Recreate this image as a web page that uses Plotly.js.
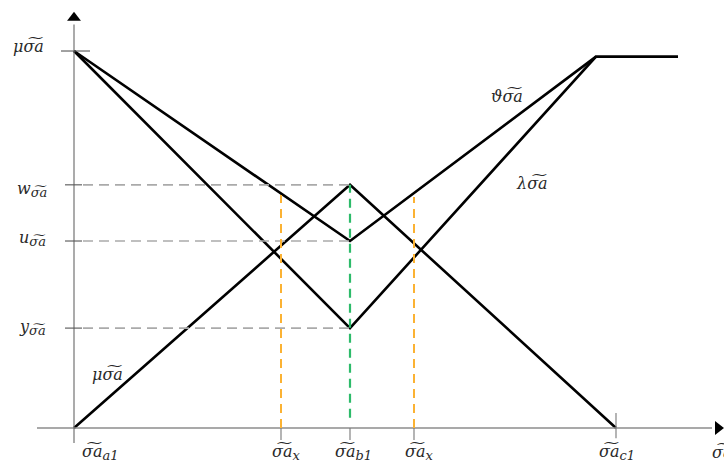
<!DOCTYPE html>
<html>
<head>
<meta charset="utf-8">
<script src="https://cdn.plot.ly/plotly-3.0.1.min.js"></script>
<style>html,body{margin:0;padding:0;background:#fff;}#chart{width:724px;height:462px;}</style>
</head>
<body>
<div id="chart"></div>
<script>
// Key abscissae (abstract units)
const xA1 = 0, xXL = 2.07, xB1 = 2.76, xXR = 3.40, xC1 = 5.42, xTop = 5.22, xEnd = 6.04;
// Membership levels
const levelTop = 1.0, levelTopRight = 0.985, levelW = 0.645, levelU = 0.496, levelY = 0.265;

// Truth membership (triangle)
const truthX = [xA1, xB1, xC1];
const truthY = [0, levelW, 0];
// Indeterminacy
const indetX = [xA1, xB1, xTop];
const indetY = [levelTop, levelU, levelTopRight];
// Falsity
const falsX = [xA1, xB1, xTop, xEnd];
const falsY = [levelTop, levelY, levelTopRight, levelTopRight];

// Guide levels
const guideLevels = [levelW, levelU, levelY];
const orangeX = [xXL, xXR];
const orangeTop = [0.618, 0.613];

const T = 'σ͠a';
const sub = s => '<sub><span style="font-size:13px">' + s + '</span></sub>';
const yTickLabels = ['μ' + T, 'w' + sub(T), 'u' + sub(T), 'y' + sub(T)];
const xTickLabels = [T + sub('a1'), T + sub('x'), T + sub('b1'), T + sub('x'), T + sub('c1'), T];
const xTickPos = [0.26, 2.12, 2.79, 3.45, 5.43, 6.36];
const curveLabels = ['μ' + T, 'ϑ' + T, 'λ' + T];
const curveLabelPos = [[0.33, 0.143], [4.33, 0.881], [4.58, 0.650]];

const blk = {color: '#000', width: 2.6};
const traces = [
  {x: truthX, y: truthY, mode: 'lines', line: blk},
  {x: indetX, y: indetY, mode: 'lines', line: blk},
  {x: falsX, y: falsY, mode: 'lines', line: blk},
  // axis arrowheads
  {x: [6.44], y: [0], mode: 'markers', marker: {symbol: 'triangle-right', size: 12, color: '#000'}},
  {x: [0], y: [1.088], mode: 'markers', marker: {symbol: 'triangle-up', size: 12, color: '#000'}}
];

const shapes = [];
// axes
shapes.push({type: 'line', x0: -0.37, x1: 6.38, y0: 0, y1: 0, line: {color: '#8c8c8c', width: 1.6}});
shapes.push({type: 'line', x0: 0, x1: 0, y0: -0.04, y1: 1.07, line: {color: '#666', width: 1.1}});
// top tick
shapes.push({type: 'line', x0: -0.13, x1: 0.16, y0: levelTop, y1: levelTop, line: {color: '#555', width: 1.1}});
// gray dashed guides with ticks
guideLevels.forEach(v => {
  shapes.push({type: 'line', x0: -0.09, x1: 0.08, y0: v, y1: v, line: {color: '#555', width: 1.1}});
  shapes.push({type: 'line', x0: 0.09, x1: xB1, y0: v, y1: v, line: {color: '#aaaaaa', width: 1.6, dash: '10px,6px'}});
});
// orange dashed
orangeX.forEach((xv, i) => {
  shapes.push({type: 'line', x0: xv, x1: xv, y0: 0, y1: orangeTop[i], line: {color: '#fbb233', width: 2, dash: '9px,6px'}});
});
// green dashed
shapes.push({type: 'line', x0: xB1, x1: xB1, y0: 0.027, y1: levelW, line: {color: '#2dbb6a', width: 2.2, dash: '9px,6px'}});
// x ticks
[xXL, xB1, xXR].forEach(xv => {
  shapes.push({type: 'line', x0: xv, x1: xv, y0: 0, y1: -0.032, line: {color: '#777', width: 1.1}});
});
shapes.push({type: 'line', x0: xC1, x1: xC1, y0: 0.04, y1: -0.027, line: {color: '#777', width: 1.1}});

const fnt = {family: 'DejaVu Serif', size: 16, color: '#2a2a2a'};
const annotations = [];
// y labels
const yLabelPos = [[-0.46, 1.013], [-0.42, 0.633], [-0.42, 0.503], [-0.42, 0.266]];
yTickLabels.forEach((t, i) => {
  annotations.push({x: yLabelPos[i][0], y: yLabelPos[i][1], xref: 'x', yref: 'y', text: '<i>' + t + '</i>', showarrow: false, xanchor: 'center', yanchor: 'middle', font: fnt});
});
// x labels
xTickLabels.forEach((t, i) => {
  annotations.push({x: xTickPos[i], y: -0.064, xref: 'x', yref: 'y', text: '<i>' + t + '</i>', showarrow: false, xanchor: i === 5 ? 'left' : 'center', yanchor: 'middle', font: fnt});
});
// curve labels
curveLabels.forEach((t, i) => {
  annotations.push({x: curveLabelPos[i][0], y: curveLabelPos[i][1], xref: 'x', yref: 'y', text: '<i>' + t + '</i>', showarrow: false, xanchor: 'center', yanchor: 'middle', font: fnt});
});

const layout = {
  width: 724, height: 462,
  margin: {l: 0, r: 0, t: 0, b: 0},
  paper_bgcolor: '#fff', plot_bgcolor: '#fff',
  showlegend: false,
  xaxis: {range: [-0.74, 6.50], visible: false, fixedrange: true},
  yaxis: {range: [-0.0902, 1.1353], visible: false, fixedrange: true},
  shapes: shapes,
  annotations: annotations
};
Plotly.newPlot('chart', traces, layout, {displayModeBar: false, staticPlot: true});
</script>
</body>
</html>
